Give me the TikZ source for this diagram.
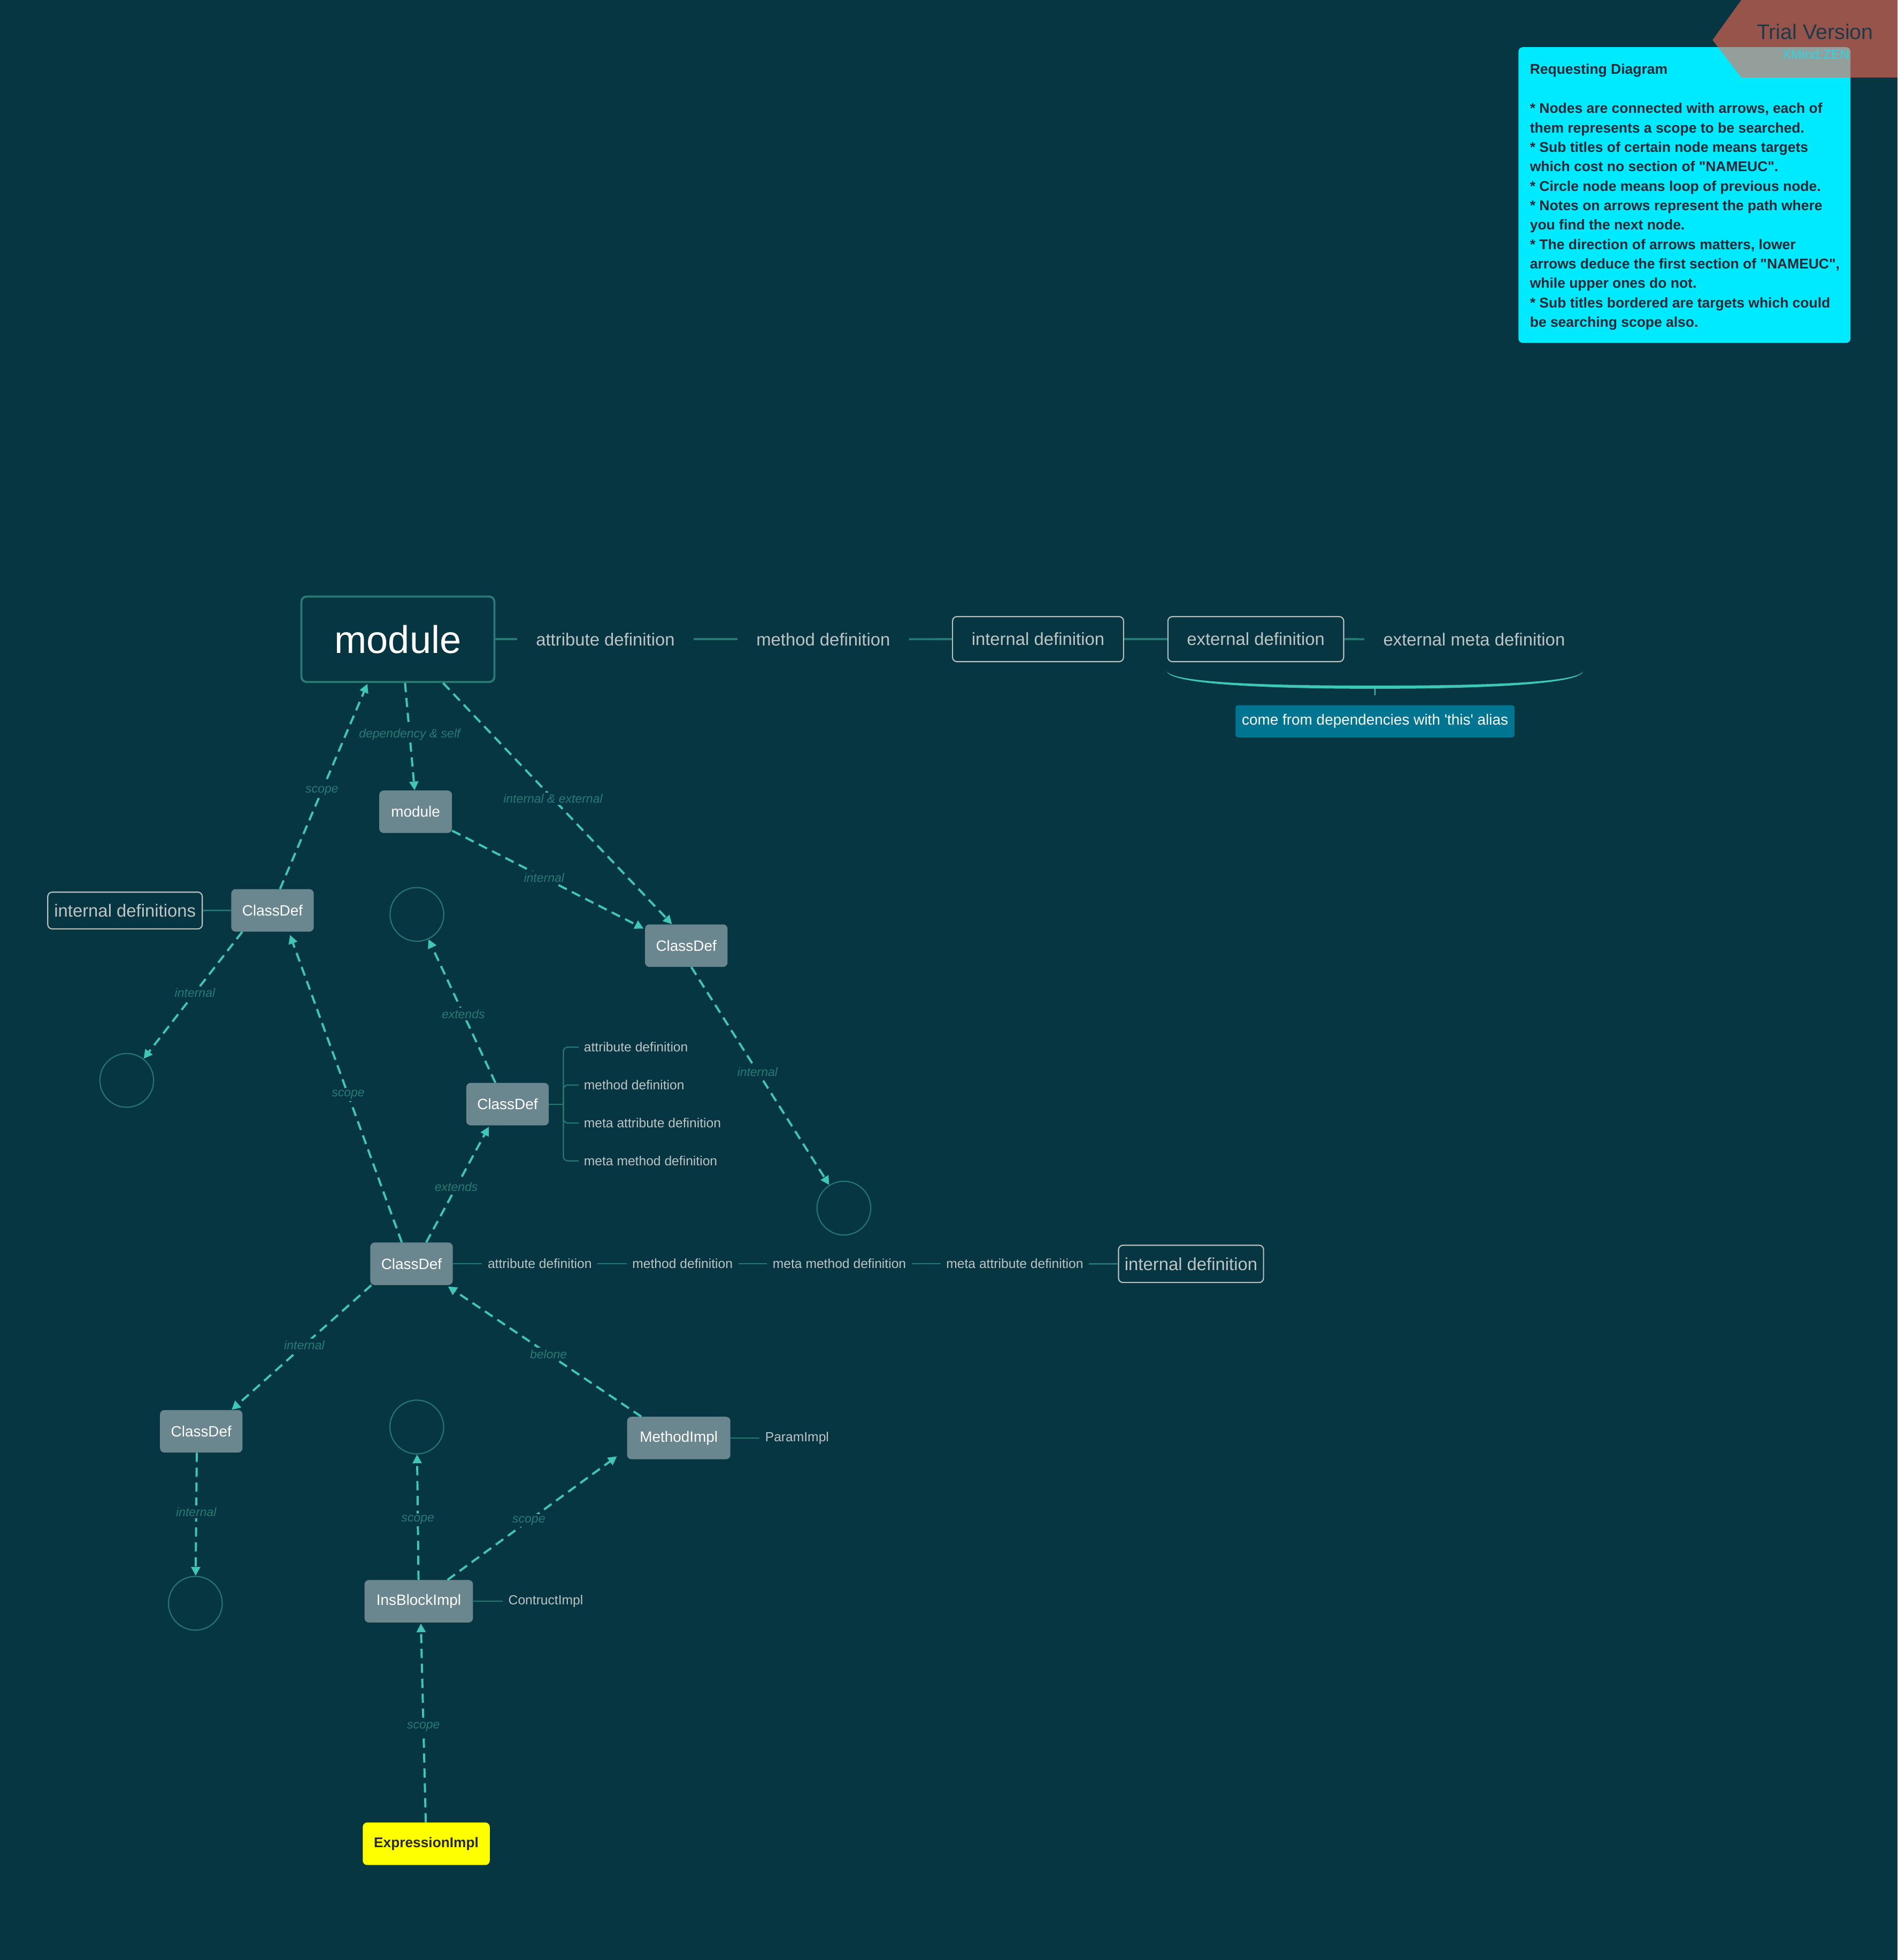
\documentclass[tikz,border=0pt]{standalone}
\usepackage{fontspec}
\setmainfont{Liberation Sans}
\usetikzlibrary{arrows.meta,calc}

\definecolor{bg}{RGB}{5,54,66}
\definecolor{nodegray}{RGB}{106,134,143}
\definecolor{modedge}{RGB}{42,122,118}
\definecolor{linkteal}{RGB}{38,122,118}
\definecolor{arrowteal}{RGB}{62,200,180}
\definecolor{labelteal}{RGB}{40,122,117}
\definecolor{subtext}{RGB}{190,196,196}
\definecolor{boxedge}{RGB}{184,192,192}
\definecolor{loopedge}{RGB}{35,115,112}
\definecolor{calloutfill}{RGB}{0,117,145}
\definecolor{notefill}{RGB}{0,234,255}
\definecolor{notetext}{RGB}{40,40,52}
\definecolor{bannerfill}{RGB}{255,106,83}
\definecolor{bannertext}{RGB}{28,58,74}
\definecolor{zentext}{RGB}{40,215,230}
\definecolor{exprfill}{RGB}{255,255,0}

\newcommand\fsz[1]{\fontsize{#1pt}{#1pt}\selectfont}

\begin{document}
\begin{tikzpicture}[x=0.05cm, y=-0.05cm,
  mainmod/.style={draw=modedge, line width=2.3pt, rounded corners=6pt, fill=bg,
    text=white, font=\fsz{44}, minimum width=7.72cm, minimum height=3.42cm, inner sep=0pt},
  gnode/.style={fill=nodegray, rounded corners=5pt, text=white, font=\fsz{17},
    minimum height=1.7cm, minimum width=3.3cm, inner sep=0pt},
  exprnode/.style={fill=exprfill, rounded corners=5pt, text=notetext, font=\fsz{16}\bfseries,
    minimum height=1.7cm, minimum width=5.08cm, inner sep=0pt},
  boxed/.style={draw=boxedge, line width=1.3pt, rounded corners=5pt, text=subtext,
    font=\fsz{20}, inner sep=0pt},
  toptext/.style={text=subtext, font=\fsz{20}, inner xsep=0.75cm, inner ysep=0pt},
  subitem/.style={text=subtext, font=\fsz{15}, inner xsep=0.2cm, inner ysep=0pt},
  rowtext/.style={text=subtext, font=\fsz{15}, inner xsep=0.22cm, inner ysep=0pt},
  loopc/.style={circle, draw=loopedge, line width=1.4pt, minimum size=2.15cm, inner sep=0pt},
  link/.style={draw=linkteal, line width=2.4pt},
  rowlink/.style={draw=linkteal, line width=1.6pt},
  sublink/.style={draw=linkteal, line width=1.3pt},
  flow/.style={draw=arrowteal, line width=2.4pt, dash pattern=on 10.5pt off 6.5pt,
    -{Triangle[length=10pt,width=10pt]}},
  elabel/.style={fill=bg, text=labelteal, font=\fsz{14}\itshape, inner sep=2pt, pos=0.48},
  notebody/.style={text=notetext, font={\fontsize{16.1pt}{22.14pt}\selectfont\bfseries},
    align=left, inner sep=0pt}
]
\fill[bg] (0,0) rectangle (1518,1568);
\useasboundingbox (0,0) rectangle (1518,1568);

% ---------- legend note ----------
\node[fill=notefill, rounded corners=5pt, anchor=north west, minimum width=13.28cm,
  minimum height=11.83cm, inner sep=0pt] (note) at (1214.6,37.6) {};
\node[notebody, anchor=base west] (noteTitle) at (1223.8,59.4) {Requesting Diagram};
\node[notebody, anchor=north west] (noteBody) at (1223.8,82.2) {%
* Nodes are connected with arrows, each of\\
them represents a scope to be searched.\\
* Sub titles of certain node means targets\\
which cost no section of \textquotedbl NAMEUC\textquotedbl.\\
* Circle node means loop of previous node.\\
* Notes on arrows represent the path where\\
you find the next node.\\
* The direction of arrows matters, lower\\
arrows deduce the first section of \textquotedbl NAMEUC\textquotedbl,\\
while upper ones do not.\\
* Sub titles bordered are targets which could\\
be searching scope also.};

% ---------- trial banner ----------
\fill[bannerfill, opacity=0.58] (1393,0) -- (1370,32) -- (1393,62) -- (1518,62) -- (1518,0) -- cycle;
\node[text=bannertext, font=\fsz{24}, inner sep=0pt] (trial) at (1452,25.5) {Trial Version};
\node[text=zentext, font=\fsz{15}, inner sep=0pt] (zen) at (1452.5,43.7) {XMind:ZEN};

% ---------- top row ----------
\node[mainmod] (modbig) at (318.3,511.4) {module};
\node[toptext] (tAttr) at (484.3,511.4) {attribute definition};
\node[toptext] (tMeth) at (658.6,511.4) {method definition};
\node[boxed, minimum width=6.84cm, minimum height=1.8cm] (tInt) at (830.4,511.3) {internal definition};
\node[boxed, minimum width=7.03cm, minimum height=1.8cm] (tExt) at (1004.6,511.3) {external definition};
\node[toptext] (tExtMeta) at (1179.3,511.4) {external meta definition};
\draw[link] (modbig) -- (tAttr);
\draw[link] (tAttr) -- (tMeth);
\draw[link] (tMeth) -- (tInt);
\draw[link] (tInt) -- (tExt);
\draw[link] (tExt) -- (tExtMeta);

% brace under the external entries
\fill[arrowteal] (933.5,537) .. controls (936,548) and (1020,551) .. (1100,551)
  .. controls (1180,551) and (1264,548) .. (1266.5,537)
  .. controls (1262,546.5) and (1180,548.5) .. (1100,548.5)
  .. controls (1020,548.5) and (938,546.5) .. cycle;
\coordinate (braceTip) at (1100,550);
\draw[arrowteal, line width=1.3pt] (braceTip) -- ++(0,6);
\node[fill=calloutfill, rounded corners=3pt, text=white, font=\fsz{17},
  minimum width=11.16cm, minimum height=1.29cm, inner sep=0pt] (alias) at (1100,577)
  {come from dependencies with \textquotesingle this\textquotesingle\ alias};

% ---------- graph nodes ----------
\node[gnode, minimum width=2.91cm] (modsm) at (332.5,649.4) {module};
\node[gnode] (cdA) at (218,728.3) {ClassDef};
\node[boxed, minimum width=6.18cm, minimum height=1.47cm] (idefs) at (100,728.4) {internal definitions};
\node[gnode] (cdB) at (549,756.5) {ClassDef};
\node[loopc] (c1) at (333.5,731.5) {};
\node[loopc] (c2) at (101.4,864.3) {};
\node[gnode] (cdC) at (406,883.3) {ClassDef};
\node[loopc] (c3) at (675.1,966.5) {};
\node[gnode] (cdD) at (329.2,1011) {ClassDef};
\node[gnode] (cdE) at (161,1145) {ClassDef};
\node[loopc] (c4) at (333.4,1141.6) {};
\node[gnode, minimum width=4.13cm] (mimpl) at (543,1150.4) {MethodImpl};
\node[loopc] (c5) at (156.3,1282.6) {};
\node[gnode, minimum width=4.34cm] (ins) at (335,1281) {InsBlockImpl};
\node[exprnode] (expr) at (341,1475) {ExpressionImpl};

\draw[rowlink] (idefs) -- (cdA);

% sub titles of the extended class
\coordinate (cdCfork) at (450.7,883.3);
\node[subitem, anchor=west] (cA) at (463,837.7) {attribute definition};
\node[subitem, anchor=west] (cM) at (463,868) {method definition};
\node[subitem, anchor=west] (cMA) at (463,898.4) {meta attribute definition};
\node[subitem, anchor=west] (cMM) at (463,928.7) {meta method definition};
\draw[sublink] (cdC) -- (cdCfork);
\draw[sublink, rounded corners=5pt] (cdCfork) |- (cA);
\draw[sublink, rounded corners=5pt] (cdCfork) |- (cM);
\draw[sublink, rounded corners=5pt] (cdCfork) |- (cMA);
\draw[sublink, rounded corners=5pt] (cdCfork) |- (cMM);

% sub titles of the main class
\node[rowtext] (dAttr) at (431.8,1011) {attribute definition};
\node[rowtext] (dMeth) at (546,1011) {method definition};
\node[rowtext] (dMM) at (671.5,1011) {meta method definition};
\node[rowtext] (dMA) at (811.8,1011) {meta attribute definition};
\node[boxed, minimum width=5.8cm, minimum height=1.49cm] (dInt) at (952.8,1011.1) {internal definition};
\draw[rowlink] (cdD) -- (dAttr);
\draw[rowlink] (dAttr) -- (dMeth);
\draw[rowlink] (dMeth) -- (dMM);
\draw[rowlink] (dMM) -- (dMA);
\draw[rowlink] (dMA) -- (dInt);

\node[rowtext, anchor=west] (param) at (607.6,1150.4) {ParamImpl};
\node[rowtext, anchor=west] (contr) at (402.2,1281) {ContructImpl};
\draw[sublink] (mimpl) -- (param);
\draw[sublink] (ins) -- (contr);

% ---------- search arrows ----------
\draw[flow] ($(modbig.south)+(5.7,0)$) -- node[elabel]{dependency \& self} ($(modsm.north)+(-0.8,0)$);
\draw[flow] ($(cdA.north)+(6,0)$) -- node[elabel]{scope} ($(modbig.south)+(-24.4,0.7)$);
\draw[flow] ($(modbig.south)+(36.2,0)$) -- node[elabel]{internal \& external} ($(cdB.north)+(-11.4,0)$);
\draw[flow] ($(modsm.south east)+(0,-2)$) -- node[elabel]{internal} ($(cdB.north west)+(-1,3.5)$);
\draw[flow] ($(cdA.south)+(-24.2,0)$) -- node[elabel]{internal} (c2);
\draw[flow] ($(cdD.north)+(-7.8,0)$) -- node[elabel]{scope} ($(cdA.south)+(14,2.5)$);
\draw[flow] ($(cdC.north)+(-9.7,0)$) -- node[elabel]{extends} (c1);
\draw[flow] ($(cdD.north)+(11.8,0)$) -- node[elabel]{extends} ($(cdC.south)+(-15,1)$);
\draw[flow] ($(cdB.south)+(4,0)$) -- node[elabel]{internal} (c3);
\draw[flow] ($(cdD.south west)+(1,0)$) -- node[elabel]{internal} ($(cdE.north)+(24.3,0)$);
\draw[flow] ($(mimpl.north)+(-30,0)$) -- node[elabel]{belone} ($(cdD.south)+(29.2,1)$);
\draw[flow] ($(cdE.south)+(-3.6,0)$) -- node[elabel]{internal} (c5);
\draw[flow] (ins) -- node[elabel]{scope} (c4);
\draw[flow] ($(ins.north)+(23,0)$) -- node[elabel]{scope} ($(mimpl.south west)+(-8,-2.5)$);
\draw[flow] ($(expr.north)+(-0.4,0)$) -- node[elabel]{scope} ($(ins.south)+(1.7,0.6)$);
\end{tikzpicture}
\end{document}
